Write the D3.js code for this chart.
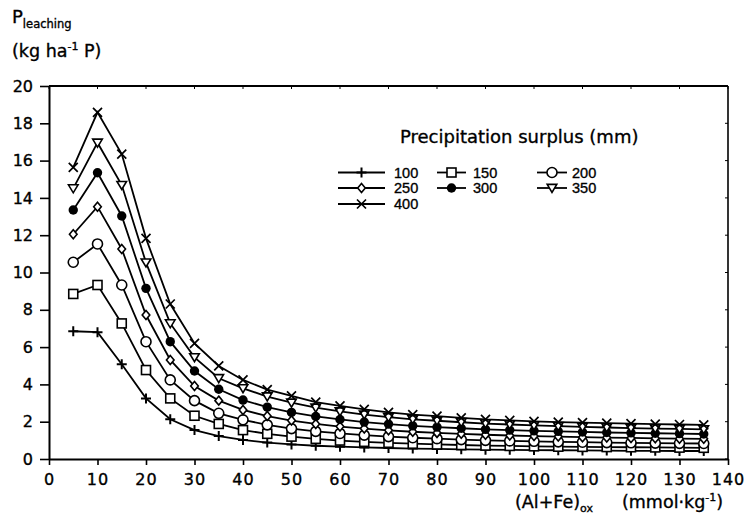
<!DOCTYPE html>
<html>
<head>
<meta charset="utf-8">
<script src="https://cdn.jsdelivr.net/npm/d3@7"></script>
<style>
  html, body { margin: 0; padding: 0; background: #fff; }
  svg { display: block; }
  text { fill: #000; stroke: #000; stroke-width: 0.35px; }
</style>
</head>
<body>
<svg id="chart" width="747" height="520"></svg>
<script>
// (Al+Fe)ox content, mmol/kg
const alFe = [5, 10, 15, 20, 25, 30, 35, 40, 45, 50, 55, 60, 65, 70, 75, 80, 85, 90, 95, 100, 105, 110, 115, 120, 125, 130, 135];

// Precipitation surplus classes (mm)
const surplus = [100, 150, 200, 250, 300, 350, 400];

// P leaching (kg/ha P) per precipitation surplus
const p100 = [6.85, 6.8, 5.08, 3.25, 2.13, 1.55, 1.23, 1.02, 0.88, 0.78, 0.71, 0.66, 0.62, 0.59, 0.56, 0.54, 0.52, 0.5, 0.49, 0.48, 0.47, 0.46, 0.45, 0.44, 0.44, 0.43, 0.43];
const p150 = [8.85, 9.33, 7.27, 4.77, 3.25, 2.32, 1.88, 1.55, 1.35, 1.2, 1.08, 0.99, 0.92, 0.87, 0.82, 0.78, 0.75, 0.72, 0.7, 0.68, 0.66, 0.65, 0.64, 0.63, 0.62, 0.61, 0.6];
const p200 = [10.55, 11.53, 9.33, 6.29, 4.24, 3.13, 2.45, 2.1, 1.83, 1.63, 1.48, 1.37, 1.28, 1.2, 1.14, 1.09, 1.04, 1.0, 0.97, 0.95, 0.92, 0.9, 0.88, 0.87, 0.85, 0.84, 0.83];
const p250 = [12.05, 13.53, 11.26, 7.72, 5.31, 3.91, 3.13, 2.63, 2.3, 2.06, 1.88, 1.74, 1.63, 1.54, 1.46, 1.4, 1.35, 1.3, 1.26, 1.23, 1.2, 1.17, 1.15, 1.13, 1.11, 1.09, 1.08];
const p300 = [13.35, 15.35, 13.03, 9.15, 6.29, 4.72, 3.74, 3.16, 2.78, 2.5, 2.28, 2.12, 1.98, 1.87, 1.78, 1.71, 1.65, 1.59, 1.55, 1.51, 1.48, 1.45, 1.42, 1.4, 1.38, 1.36, 1.34];
const p350 = [14.51, 16.96, 14.69, 10.53, 7.27, 5.45, 4.33, 3.79, 3.35, 3.02, 2.75, 2.55, 2.38, 2.24, 2.13, 2.05, 1.97, 1.9, 1.85, 1.8, 1.76, 1.72, 1.69, 1.66, 1.63, 1.61, 1.59];
const p400 = [15.64, 18.59, 16.35, 11.83, 8.31, 6.2, 4.99, 4.24, 3.72, 3.38, 3.05, 2.85, 2.66, 2.5, 2.38, 2.3, 2.2, 2.12, 2.07, 2.02, 1.98, 1.95, 1.92, 1.9, 1.87, 1.85, 1.83];

const xTicks = [0, 10, 20, 30, 40, 50, 60, 70, 80, 90, 100, 110, 120, 130, 140];
const yTicks = [0, 2, 4, 6, 8, 10, 12, 14, 16, 18, 20];

const seriesValues = [p100, p150, p200, p250, p300, p350, p400];
const markerKinds = ["plus", "square", "circle", "diamond", "dot", "triangle", "cross"];

const series = surplus.map((s, i) => ({
  name: String(s),
  kind: markerKinds[i],
  points: alFe.map((x, j) => ({ x, y: seriesValues[i][j] }))
}));

const svg = d3.select("#chart");
const FONT = "'DejaVu Sans', 'Liberation Sans', Arial, sans-serif";

const x = d3.scaleLinear().domain([0, 140]).range([49, 728]);
const y = d3.scaleLinear().domain([0, 20]).range([459, 86]);

// marker glyphs, centred on the origin
function drawMarker(g, kind) {
  const sw = 1.6;
  if (kind === "plus") {
    g.append("path").attr("d", "M-5,0H5M0,-5V5")
      .attr("stroke", "#000").attr("stroke-width", 2).attr("fill", "none");
  } else if (kind === "cross") {
    g.append("path").attr("d", "M-4.5,-4.5L4.5,4.5M-4.5,4.5L4.5,-4.5")
      .attr("stroke", "#000").attr("stroke-width", 1.7).attr("fill", "none");
  } else if (kind === "square") {
    g.append("rect").attr("x", -4.5).attr("y", -4.5).attr("width", 9).attr("height", 9)
      .attr("fill", "#fff").attr("stroke", "#000").attr("stroke-width", sw);
  } else if (kind === "circle") {
    g.append("circle").attr("r", 5)
      .attr("fill", "#fff").attr("stroke", "#000").attr("stroke-width", sw);
  } else if (kind === "diamond") {
    g.append("path").attr("d", "M0,-4.5L3.8,0L0,4.5L-3.8,0Z")
      .attr("fill", "#fff").attr("stroke", "#000").attr("stroke-width", sw);
  } else if (kind === "dot") {
    g.append("circle").attr("r", 4.7).attr("fill", "#000");
  } else if (kind === "triangle") {
    g.append("path").attr("d", "M-4.8,-3.6L4.8,-3.6L0,4.4Z")
      .attr("fill", "#fff").attr("stroke", "#000").attr("stroke-width", sw);
  }
}

// axes
const xAxis = d3.axisBottom(x).tickValues(xTicks).tickSize(6).tickPadding(8.5).tickSizeOuter(0);
const yAxis = d3.axisLeft(y).tickValues(yTicks).tickSize(9).tickPadding(7).tickSizeOuter(0);

const gx = svg.append("g").attr("transform", `translate(0,${y(0)})`).call(xAxis);
const gy = svg.append("g").attr("transform", `translate(${x(0)},0)`).call(yAxis);
[gx, gy].forEach(g => {
  g.select(".domain").attr("stroke", "#000").attr("stroke-width", 2);
  g.selectAll(".tick line").attr("stroke", "#000").attr("stroke-width", 1.6);
  g.selectAll(".tick text").attr("font-family", FONT).attr("font-size", 16)
    .attr("fill", "#000");
});
gx.selectAll(".tick text").attr("letter-spacing", 1);

// top and right frame with small inward ticks
const frame = svg.append("g");
frame.append("line").attr("x1", x(0)).attr("x2", x(140)).attr("y1", y(20)).attr("y2", y(20))
  .attr("stroke", "#000").attr("stroke-width", 2);
frame.append("line").attr("x1", x(140)).attr("x2", x(140)).attr("y1", y(20)).attr("y2", y(0))
  .attr("stroke", "#000").attr("stroke-width", 1.6);
frame.selectAll(".rt").data(yTicks).join("line")
  .attr("x1", x(140) - 3).attr("x2", x(140)).attr("y1", d => y(d)).attr("y2", d => y(d))
  .attr("stroke", "#000").attr("stroke-width", 1);
frame.selectAll(".tt").data(xTicks).join("line")
  .attr("x1", d => x(d)).attr("x2", d => x(d)).attr("y1", y(20)).attr("y2", y(20) + 3)
  .attr("stroke", "#000").attr("stroke-width", 1);

// series lines
const line = d3.line().x(d => x(d.x)).y(d => y(d.y));
const plot = svg.append("g");
plot.selectAll(".series").data(series).join("path")
  .attr("class", "series")
  .attr("d", d => line(d.points))
  .attr("fill", "none").attr("stroke", "#000").attr("stroke-width", 1.8);

// series markers
series.forEach(s => {
  const gm = plot.append("g");
  s.points.forEach(p => {
    const g = gm.append("g").attr("transform", `translate(${x(p.x)},${y(p.y)})`);
    drawMarker(g, s.kind);
  });
});

// y axis title
const yt1 = svg.append("text").attr("x", 12).attr("y", 23).attr("font-family", FONT).attr("font-size", 18);
yt1.append("tspan").text("P");
yt1.append("tspan").attr("font-size", 11.5).attr("dy", 5).text("leaching");

const yt2 = svg.append("text").attr("x", 12).attr("y", 57).attr("font-family", FONT).attr("font-size", 17.5);
yt2.append("tspan").text("(kg ha");
yt2.append("tspan").attr("font-size", 11).attr("dy", -7).text("-1");
yt2.append("tspan").attr("dy", 7).text(" P)");

// x axis title
const xt = svg.append("text").attr("x", 515).attr("y", 508).attr("font-family", FONT).attr("font-size", 17.5);
xt.append("tspan").text("(Al+Fe)");
xt.append("tspan").attr("font-size", 11).attr("dy", 4).text("ox");
xt.append("tspan").attr("x", 622).attr("dy", -4).text("(mmol");
xt.append("tspan").text("·kg");
xt.append("tspan").attr("font-size", 11).attr("dy", -7).text("-1");
xt.append("tspan").attr("dy", 7).text(")");

// legend
const legend = svg.append("g");
legend.append("text").attr("x", 400).attr("y", 143).attr("font-family", FONT).attr("font-size", 18)
  .text("Precipitation surplus (mm)");

const colX = [
  { x1: 338, x2: 385, tx: 394 },
  { x1: 437, x2: 466, tx: 473 },
  { x1: 537, x2: 567, tx: 572 }
];
const rowY = [172.5, 188, 204];
series.forEach((s, i) => {
  const c = colX[i % 3], r = rowY[Math.floor(i / 3)];
  const g = legend.append("g");
  g.append("line").attr("x1", c.x1).attr("x2", c.x2).attr("y1", r).attr("y2", r)
    .attr("stroke", "#000").attr("stroke-width", 1.8);
  const m = g.append("g").attr("transform", `translate(${(c.x1 + c.x2) / 2},${r})`);
  drawMarker(m, s.kind);
  g.append("text").attr("x", c.tx).attr("y", r + 5)
    .attr("font-family", "'Liberation Sans', Arial, sans-serif").attr("font-size", 14.5)
    .text(s.name);
});
</script>
</body>
</html>
